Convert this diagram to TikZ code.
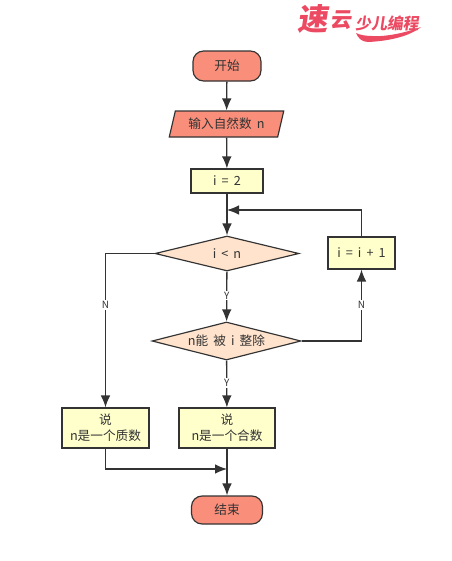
\documentclass[tikz,border=0pt]{standalone}
\usepackage{fontspec}
\setmainfont[WordSpace=1.8]{Noto Sans CJK SC}
\usepackage{xcolor}
\usetikzlibrary{arrows.meta, shapes.geometric}
\definecolor{salmonfill}{HTML}{F98E7A}
\definecolor{peachfill}{HTML}{FFE3CC}
\definecolor{creamfill}{HTML}{FFFFCC}
\definecolor{inkgrey}{HTML}{333333}
\definecolor{logored}{HTML}{EC4A62}
\tikzset{
    base/.style={draw=inkgrey, line width=1pt, text=inkgrey, font=\fontsize{10.8}{14}\selectfont, align=center, inner sep=0pt},
    terminal/.style={base, rounded corners=9pt, fill=salmonfill},
    inputbox/.style={base, trapezium, trapezium left angle=69, trapezium right angle=111, trapezium stretches=true, fill=salmonfill, minimum width=3.45cm, minimum height=0.78cm},
    procbox/.style={base, rectangle, fill=creamfill},
    decision/.style={base, diamond, aspect=4, fill=peachfill},
    flow/.style={draw=inkgrey, line width=1.1pt, -{Latex[length=3.6mm,width=2.9mm]}},
    edgelabel/.style={fill=white, text=inkgrey, font=\fontsize{8.5}{10}\selectfont, inner sep=1pt},
    logotext/.style={text=logored, inner sep=0pt, xslant=0.15}
}
\begin{document}
\begin{tikzpicture}[x=0.03cm, y=-0.03cm]
    \useasboundingbox (0,0) rectangle (452,561);

    % Logo in the top corner
    \fill[logored] (356,33) .. controls (358,38) and (362,42) .. (368,42) .. controls (390,41) and (410,36) .. (421,27) .. controls (405,33) and (385,37) .. (372,36) .. controls (366,36) and (360,35) .. cycle;
    \node[logotext, font=\fontsize{26}{26}\selectfont\bfseries] (logoa) at (314,19) {速};
    \node[logotext, font=\fontsize{18}{18}\selectfont\bfseries] (logob) at (342,20) {云};
    \node[logotext, font=\fontsize{13.5}{14}\selectfont\bfseries] (logoc) at (388,23) {少儿编程};

    % Draw the flow nodes
    \node[terminal, minimum width=2.04cm, minimum height=0.9cm] (start) at (227,66) {开始};
    \node[inputbox] (input) at (226.5,124) {输入自然数 n};
    \node[procbox, minimum width=2.16cm, minimum height=0.72cm] (init) at (227,181) {i = 2};
    \coordinate (merge) at (227,210);
    \node[decision, minimum width=4.32cm, minimum height=1.05cm] (test) at (227,253.5) {i < n};
    \node[procbox, minimum width=2.01cm, minimum height=0.96cm] (incr) at (361.5,253) {i = i + 1};
    \node[decision, minimum width=4.47cm, minimum height=1.14cm] (divides) at (226.5,341) {n能 被 i 整除};
    \node[procbox, minimum width=2.61cm, minimum height=1.2cm] (prime) at (105.5,428) {说\\n是一个质数};
    \node[procbox, minimum width=2.88cm, minimum height=1.2cm] (composite) at (227,428) {说\\n是一个合数};
    \coordinate (join) at (227,469);
    \node[terminal, minimum width=2.13cm, minimum height=0.84cm] (stop) at (227,510) {结束};

    % Draw the straight connectors
    \draw[flow] (start) -- (input);
    \draw[flow] (input) -- (init);
    \draw[flow] (init) -- (test);
    \draw[flow] (test) -- node[edgelabel, pos=0.48] (ylabela) {Y} (divides);
    \draw[flow] (divides) -- node[edgelabel, pos=0.48] (ylabelb) {Y} (composite);
    \draw[flow] (composite) -- (stop);

    % Draw the elbow connectors
    \draw[flow] (test.west) -| node[edgelabel, pos=0.668] (nlabela) {N} (prime.north);
    \draw[flow] (divides.east) -| node[edgelabel, pos=0.75] (nlabelb) {N} (incr.south);
    \draw[flow] (incr.north) |- (merge);
    \draw[flow] (prime.south) |- (join);
\end{tikzpicture}
\end{document}
